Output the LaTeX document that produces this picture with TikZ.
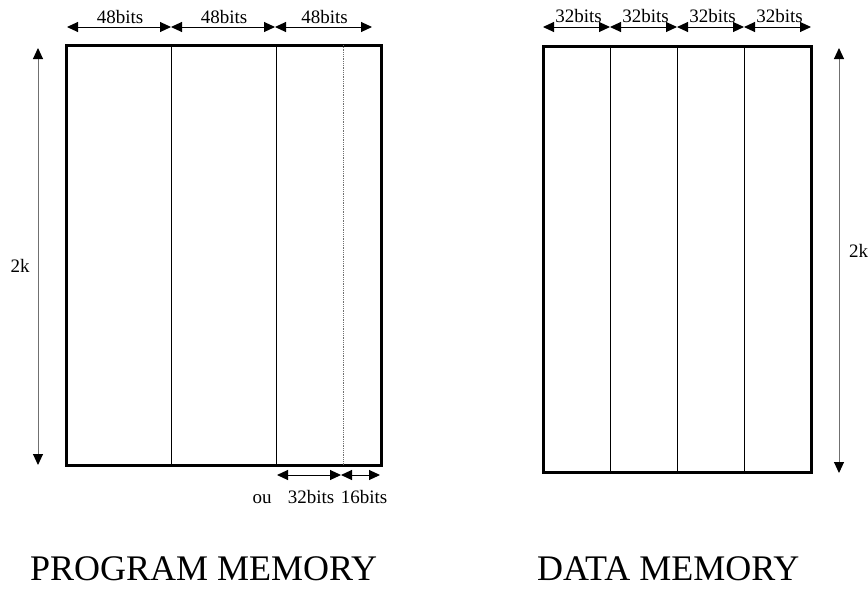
\documentclass[tikz,border=0pt]{standalone}
\usepackage{fontspec}
\setmainfont{Liberation Serif}
\usetikzlibrary{arrows.meta,positioning,calc}
\definecolor{dimgray}{HTML}{707070}

\tikzset{
  dimarrow/.style={{Triangle[length=11pt,width=10pt,color=black]}-{Triangle[length=11pt,width=10pt,color=black]}, line width=1pt},
  sizelabel/.style={font=\fontsize{19}{22}\selectfont, inner sep=0pt, anchor=base},
  titlelabel/.style={font=\fontsize{36}{40}\selectfont, inner sep=0pt, anchor=base west},
  memframe/.style={line width=3pt},
  memcol/.style={line width=1pt},
}

\begin{document}
\begin{tikzpicture}[x=1pt,y=-1pt]
  \useasboundingbox (0,0) rectangle (868,590);

  % program memory
  \coordinate (pnw) at (66,45);
  \coordinate (pse) at (381,465);
  \draw[memframe] (pnw) rectangle (pse);
  \foreach \x in {171.5,276.5}
    \draw[memcol] (\x,45) -- (\x,465);
  \draw[dimgray,densely dotted,line width=0.8pt] (343,45) -- (343,465);
  \foreach \a/\b [count=\i] in {67/171,171/275,275/372} {
    \draw[dimarrow] (\a,27) -- (\b,27);
    \node[sizelabel] (pw\i) at ({(\a+\b)/2+1},23) {48bits};
  }
  \coordinate (ptop) at (38,48);
  \coordinate (pbot) at (38,465);
  \draw[dimarrow,dimgray] (ptop) -- (pbot);
  \node[sizelabel] (pk) at (20,272) {2k};
  \coordinate (pb1) at (277,475);
  \coordinate (pb2) at (341,475);
  \coordinate (pb3) at (380,475);
  \draw[dimarrow] (pb1) -- (pb2);
  \draw[dimarrow] (pb2) -- (pb3);
  \node[sizelabel] (por) at (262,503) {ou};
  \node[sizelabel] (p32) at (311,503) {32bits};
  \node[sizelabel] (p16) at (364,503) {16bits};
  \node[titlelabel] (ptitle) at (30,580) {PROGRAM MEMORY};

  % data memory
  \coordinate (dnw) at (543,46);
  \coordinate (dse) at (811,472);
  \draw[memframe] (dnw) rectangle (dse);
  \foreach \x in {610,677,744}
    \draw[memcol] (\x,46) -- (\x,472);
  \foreach \a/\b [count=\i] in {543/610,610/677,677/744,744/811} {
    \draw[dimarrow] (\a,27) -- (\b,27);
    \node[sizelabel] (dw\i) at ({(\a+\b)/2+2},22) {32bits};
  }
  \coordinate (dtop) at (839,48);
  \coordinate (dbot) at (839,473);
  \draw[dimarrow,dimgray] (dtop) -- (dbot);
  \node[sizelabel,anchor=base west] (dk) at (849,257) {2k};
  \node[titlelabel] (dtitle) at (537,580) {DATA MEMORY};
\end{tikzpicture}
\end{document}
